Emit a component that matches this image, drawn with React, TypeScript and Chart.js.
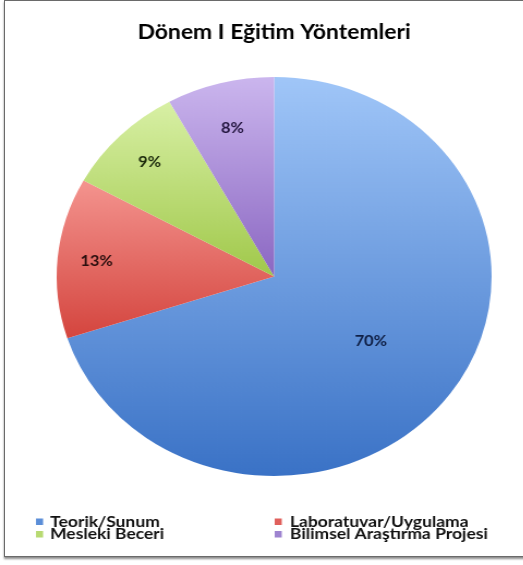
import React, { useEffect, useRef } from 'react';
import { Chart, registerables } from 'chart.js';

Chart.register(...registerables);

const TITLE = 'Dönem I Eğitim Yöntemleri';
const categories = ['Teorik/Sunum', 'Laboratuvar/Uygulama', 'Mesleki Beceri', 'Bilimsel Araştırma Projesi'];
const percentages = [70, 13, 9, 8];
const valueLabels = ['70%', '13%', '9%', '8%'];

const gradientTop = ['#a0c6f8', '#f4948f', '#d8f0a5', '#cbb6ee'];
const gradientBottom = ['#3a72c6', '#d4453e', '#a0c84a', '#8b67c2'];
const markerColors = ['#5b8ed8', '#e0605c', '#b8da72', '#9e84d0'];
const labelColors = ['#0f1f45', '#2b0f0f', '#1c2a0c', '#241640'];
const labelRadius = [0.55, 0.82, 0.81, 0.77];

const SX = 1.09;
const CW = 480;
const CH = 565;
const FONT = 'Lato, "Open Sans", sans-serif';

function sliceGradient(ctx: any) {
  const chart = ctx.chart;
  const area = chart.chartArea;
  const i = ctx.dataIndex;
  if (!area || i === undefined || i === null) return gradientBottom[0];
  const cy = (area.top + area.bottom) / 2;
  const r = Math.min(area.right - area.left, area.bottom - area.top) / 2;
  const total = percentages.reduce((a, b) => a + b, 0);
  let cum = 0;
  for (let j = 0; j < i; j++) cum += percentages[j];
  const a0 = -Math.PI / 2 + (2 * Math.PI * cum) / total;
  const a1 = a0 + (2 * Math.PI * percentages[i]) / total;
  let minY = cy;
  let maxY = cy;
  for (let k = 0; k <= 90; k++) {
    const a = a0 + ((a1 - a0) * k) / 90;
    const y = cy + r * Math.sin(a);
    if (y < minY) minY = y;
    if (y > maxY) maxY = y;
  }
  const g = chart.ctx.createLinearGradient(0, minY, 0, maxY);
  g.addColorStop(0, gradientTop[i]);
  g.addColorStop(1, gradientBottom[i]);
  return g;
}

const valueLabelPlugin = {
  id: 'valueLabels',
  afterDatasetsDraw(chart: any) {
    const meta = chart.getDatasetMeta(0);
    const c = chart.ctx;
    c.save();
    c.font = `bold 15px ${FONT}`;
    c.textAlign = 'center';
    c.textBaseline = 'middle';
    meta.data.forEach((arc: any, i: number) => {
      const p = arc.getProps(['x', 'y', 'startAngle', 'endAngle', 'outerRadius'], true);
      const mid = (p.startAngle + p.endAngle) / 2;
      const rr = p.outerRadius * labelRadius[i];
      c.fillStyle = labelColors[i];
      c.fillText(valueLabels[i], p.x + Math.cos(mid) * rr, p.y + Math.sin(mid) * rr);
    });
    c.restore();
  },
};

const gridLegendPlugin = {
  id: 'gridLegend',
  afterDraw(chart: any) {
    const c = chart.ctx;
    const markerX = [33, 252];
    const textX = [46, 266];
    const rowY = [521.5, 534];
    c.save();
    c.font = `bold 16px ${FONT}`;
    c.textAlign = 'left';
    c.textBaseline = 'middle';
    categories.forEach((name, i) => {
      const col = i % 2;
      const row = Math.floor(i / 2);
      c.fillStyle = markerColors[i];
      c.fillRect(markerX[col], rowY[row] - 3, 6.5, 6.5);
      c.fillStyle = '#111111';
      c.fillText(name, textX[col], rowY[row]);
    });
    c.restore();
  },
};

export default function App() {
  const canvasRef = useRef<HTMLCanvasElement | null>(null);

  useEffect(() => {
    document.body.style.margin = '0';
    const canvas = canvasRef.current;
    if (!canvas) return;
    const chart = new Chart(canvas, {
      type: 'pie',
      data: {
        labels: categories,
        datasets: [
          {
            data: percentages,
            backgroundColor: sliceGradient as any,
            borderWidth: 0,
          },
        ],
      },
      options: {
        responsive: false,
        animation: false,
        devicePixelRatio: 1,
        events: [],
        layout: { padding: { left: 52, right: 29, top: 0, bottom: 89 } },
        plugins: {
          legend: { display: false },
          tooltip: { enabled: false },
          title: {
            display: true,
            text: TITLE,
            color: '#000000',
            font: { family: FONT, size: 21, weight: 'bold', lineHeight: 1.2 },
            padding: { top: 19.5, bottom: 32.3 },
          },
        },
      },
      plugins: [valueLabelPlugin, gridLegendPlugin],
    });
    return () => chart.destroy();
  }, []);

  return (
    <div style={{ position: 'fixed', left: 0, top: 0, width: 523, height: 565, overflow: 'hidden', background: '#ffffff' }}>
      <div
        style={{
          position: 'absolute',
          left: 4,
          top: 0,
          width: 540,
          height: 557,
          boxSizing: 'border-box',
          border: '1px solid #6a6a6a',
          boxShadow: '0 2px 2px rgba(0,0,0,0.45)',
        }}
      />
      <div
        style={{
          position: 'absolute',
          left: 0,
          top: 0,
          width: CW,
          height: CH,
          transform: `scaleX(${SX})`,
          transformOrigin: '0 0',
        }}
      >
        <canvas ref={canvasRef} width={CW} height={CH} style={{ width: CW, height: CH, display: 'block' }} />
      </div>
    </div>
  );
}
